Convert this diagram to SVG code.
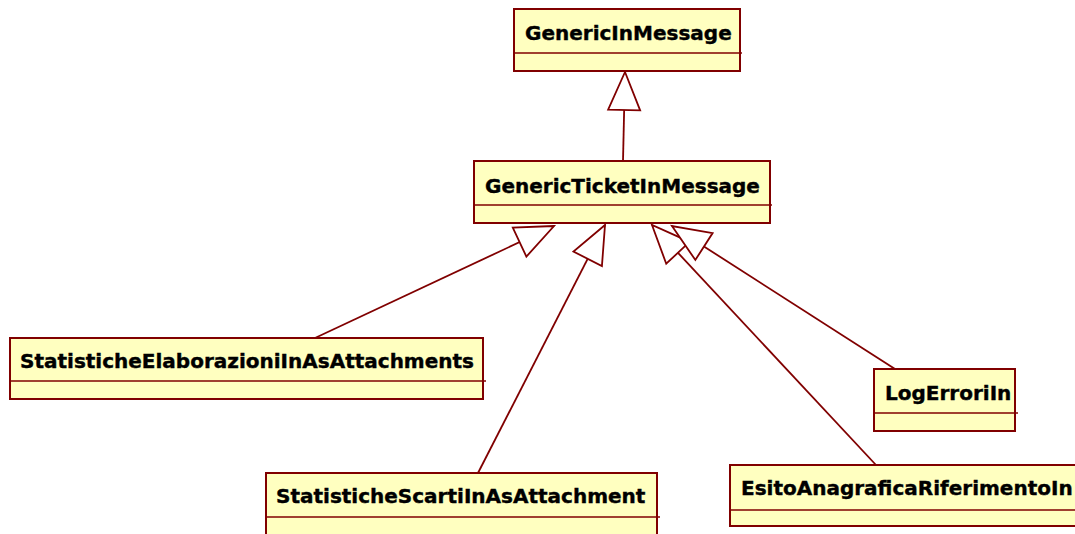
<svg xmlns="http://www.w3.org/2000/svg" width="1075" height="534" viewBox="0 0 1075 534">
<style>
.box{fill:#FFFFC0;stroke:#800000;stroke-width:2}
.div{stroke:#800000;stroke-width:1.5;fill:none}
.lbl{font-family:"DejaVu Sans",Verdana,sans-serif;font-weight:bold;font-size:20px;fill:#000;stroke:#000;stroke-width:0.4}
.edge{stroke:#800000;stroke-width:1.8;fill:none}
</style>
<defs>
<marker id="gen" markerUnits="userSpaceOnUse" markerWidth="50" markerHeight="40" viewBox="-40 -20 42 40" refX="0" refY="0" orient="auto" overflow="visible">
<path d="M0,0 L-38,-16 L-38,16 Z" fill="#fff" stroke="#800000" stroke-width="1.8" stroke-linejoin="miter"/>
</marker>
</defs>
<rect width="1075" height="534" fill="#fff"/>
<g id="connectors">
<line class="edge" x1="623" y1="161" x2="625" y2="72" marker-end="url(#gen)"/>
<line class="edge" x1="315" y1="338" x2="554" y2="226" marker-end="url(#gen)"/>
<line class="edge" x1="478" y1="473" x2="605" y2="225" marker-end="url(#gen)"/>
<line class="edge" x1="876" y1="465" x2="652" y2="225" marker-end="url(#gen)"/>
<line class="edge" x1="895" y1="369" x2="672" y2="226" marker-end="url(#gen)"/>
</g>
<g id="GenericInMessage">
<rect class="box" x="514" y="9" width="226" height="62"/>
<line class="div" x1="514" y1="53" x2="742" y2="53"/>
<text class="lbl" x="525" y="40">GenericInMessage</text>
</g>
<g id="GenericTicketInMessage">
<rect class="box" x="474" y="161" width="296" height="62"/>
<line class="div" x1="474" y1="205" x2="772" y2="205"/>
<text class="lbl" x="485" y="193">GenericTicketInMessage</text>
</g>
<g id="StatisticheElaborazioniInAsAttachments">
<rect class="box" x="10" y="338" width="473" height="61"/>
<line class="div" x1="10" y1="381" x2="486" y2="381"/>
<text class="lbl" x="20" y="368">StatisticheElaborazioniInAsAttachments</text>
</g>
<g id="StatisticheScartiInAsAttachment">
<rect class="box" x="266" y="473" width="391" height="72"/>
<line class="div" x1="266" y1="517" x2="660" y2="517"/>
<text class="lbl" x="276" y="503">StatisticheScartiInAsAttachment</text>
</g>
<g id="LogErroriIn">
<rect class="box" x="874" y="369" width="141" height="62"/>
<line class="div" x1="874" y1="413" x2="1018" y2="413"/>
<text class="lbl" x="885" y="400">LogErroriIn</text>
</g>
<g id="EsitoAnagraficaRiferimentoIn">
<rect class="box" x="730" y="465" width="360" height="61"/>
<line class="div" x1="730" y1="510" x2="1080" y2="510"/>
<text class="lbl" x="741" y="495">EsitoAnagraficaRiferimentoIn</text>
</g>
</svg>
